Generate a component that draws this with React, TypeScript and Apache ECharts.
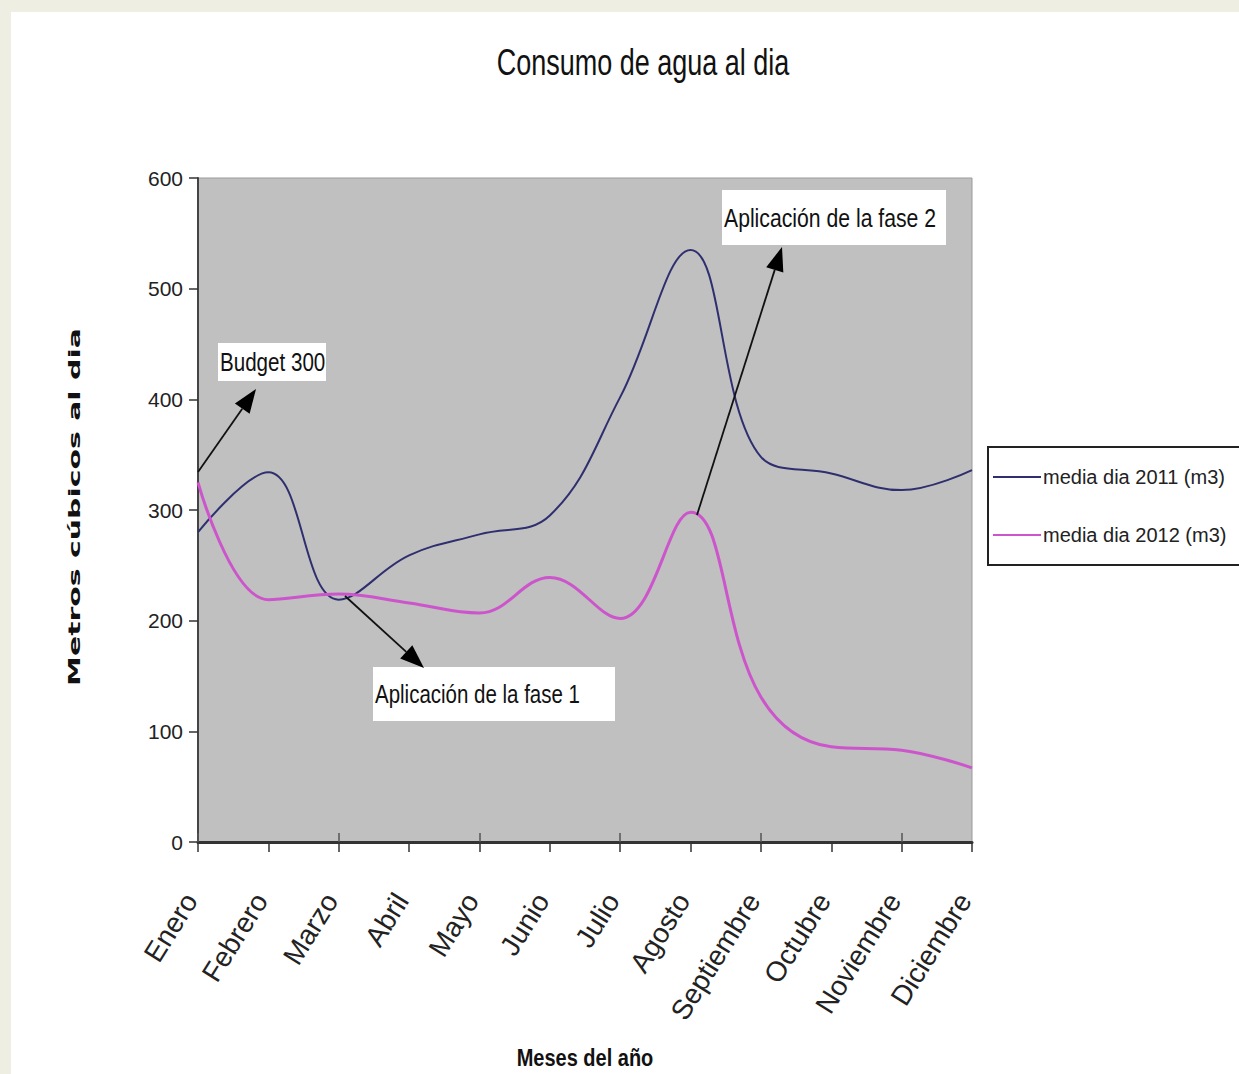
import React, { useEffect, useRef } from "react";
import * as echarts from "echarts";

const months = ["Enero", "Febrero", "Marzo", "Abril", "Mayo", "Junio", "Julio", "Agosto", "Septiembre", "Octubre", "Noviembre", "Diciembre"];
const media2011 = [280, 334, 219, 259, 278, 295, 402, 535, 348, 333, 318, 336];
const media2012 = [325, 219, 224, 216, 207, 239, 202, 298, 131, 86, 83, 67];
const seriesNames = ["media dia 2011 (m3)", "media dia 2012 (m3)"];
const yTicks = { min: 0, max: 600, interval: 100 };

const SANS = "'Liberation Sans', Arial, sans-serif";

function arrow(x1: number, y1: number, x2: number, y2: number) {
  const dx = x2 - x1, dy = y2 - y1;
  const len = Math.sqrt(dx * dx + dy * dy);
  const ux = dx / len, uy = dy / len;
  const nx = -uy, ny = ux;
  const hl = 24, hw = 9;
  const bx = x2 - ux * hl, by = y2 - uy * hl;
  return [
    { type: "line", z: 100, shape: { x1, y1, x2: bx, y2: by }, style: { stroke: "#111", lineWidth: 1.8 } },
    { type: "polygon", z: 100, shape: { points: [[x2, y2], [bx + nx * hw, by + ny * hw], [bx - nx * hw, by - ny * hw]] }, style: { fill: "#000" } },
  ];
}

function label(x: number, y: number, w: number, h: number, text: string, size: number) {
  return [
    { type: "rect", z: 99, shape: { x, y, width: w, height: h }, style: { fill: "#fff" } },
    { type: "text", z: 101, x: x + 2, y: y + h / 2, scaleY: 1.25, style: { text, font: `${size}px ${SANS}`, fill: "#111", textVerticalAlign: "middle" } },
  ];
}

export default function App() {
  const ref = useRef<HTMLDivElement>(null);
  useEffect(() => {
    document.body.style.margin = "0";
    const chart = echarts.init(ref.current!, undefined, { renderer: "svg" });
    chart.setOption({
      animation: false,
      backgroundColor: "transparent",
      grid: { left: 198, top: 178, width: 774, height: 664, show: true, backgroundColor: "#c0c0c0", borderColor: "#9a9a9a", borderWidth: 1 },
      legend: {
        orient: "vertical",
        left: 988,
        top: 447,
        data: seriesNames,
        icon: "rect",
        itemWidth: 48,
        itemHeight: 2,
        itemGap: 38,
        padding: [20, 16, 20, 5],
        borderColor: "#222",
        borderWidth: 2,
        backgroundColor: "#fff",
        textStyle: { fontFamily: SANS, fontSize: 20, color: "#222", padding: [0, 0, 0, -3] },
      },
      xAxis: [
        {
          type: "category",
          data: months,
          boundaryGap: false,
          axisLine: { lineStyle: { color: "#333", width: 3 } },
          axisTick: { length: 10, lineStyle: { color: "#333", width: 1.5 } },
          axisLabel: { rotate: 58, margin: 42, padding: [0, 14, 0, 0], fontFamily: SANS, fontSize: 28, color: "#222", interval: 0 },
          splitLine: { show: false },
        },
        {
          type: "category",
          data: months,
          boundaryGap: false,
          position: "bottom",
          axisLine: { show: false },
          axisTick: { inside: true, length: 9, lineStyle: { color: "#555", width: 1.5 } },
          axisLabel: { show: false },
          splitLine: { show: false },
        },
      ],
      yAxis: {
        type: "value",
        min: yTicks.min,
        max: yTicks.max,
        interval: yTicks.interval,
        axisLine: { show: true, lineStyle: { color: "#444", width: 2 } },
        axisTick: { show: true, length: 9, lineStyle: { color: "#333", width: 1.5 } },
        axisLabel: { margin: 15, fontFamily: SANS, fontSize: 21, color: "#222" },
        splitLine: { show: false },
      },
      series: [
        { name: seriesNames[0], type: "line", data: media2011, smooth: 0.4, showSymbol: false, lineStyle: { color: "#2f2f70", width: 2 }, itemStyle: { color: "#2f2f70" } },
        { name: seriesNames[1], type: "line", data: media2012, smooth: 0.4, showSymbol: false, lineStyle: { color: "#cc55cc", width: 3 }, itemStyle: { color: "#cc55cc" } },
      ],
      graphic: [
        {
          type: "text",
          x: 643,
          y: 62,
          scaleY: 1.35,
          style: { text: "Consumo de agua al dia", font: `27px ${SANS}`, fill: "#111", textAlign: "center", textVerticalAlign: "middle" },
        },
        {
          type: "text",
          x: 585,
          y: 1058,
          scaleY: 1.2,
          style: { text: "Meses del año", font: `bold 20px ${SANS}`, fill: "#111", textAlign: "center", textVerticalAlign: "middle" },
        },
        ...label(218, 343, 108, 38, "Budget 300", 20.6),
        ...label(373, 667, 242, 54, "Aplicación de la fase 1", 20.5),
        ...label(722, 190, 224, 55, "Aplicación de la fase 2", 21.2),
        ...arrow(198, 472, 256, 389),
        ...arrow(345, 596, 424, 668),
        ...arrow(697, 515, 782, 247),
        {
          type: "text",
          z: 100,
          x: 75,
          y: 507,
          rotation: Math.PI / 2,
          scaleX: 1.87,
          style: { text: "Metros cúbicos al dia", font: "bold 16px 'DejaVu Sans', sans-serif", fill: "#111", textAlign: "center", textVerticalAlign: "middle" },
        },
      ],
    });
    return () => chart.dispose();
  }, []);
  return (
    <div style={{ position: "relative", width: 1239, height: 1074, background: "#eeeee2", overflow: "hidden" }}>
      <div style={{ position: "absolute", left: 11, top: 12, right: 0, bottom: 0, background: "#ffffff" }} />
      <div ref={ref} style={{ position: "absolute", left: 0, top: 0, width: 1239, height: 1074 }} />
    </div>
  );
}
